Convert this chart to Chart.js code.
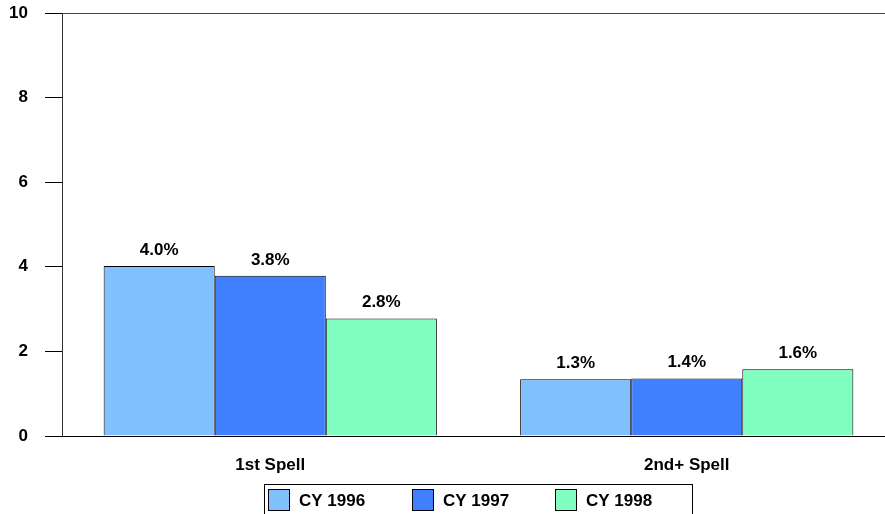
<!DOCTYPE html>
<html>
<head>
<meta charset="utf-8">
<script src="https://cdn.jsdelivr.net/npm/chart.js@4/dist/chart.umd.min.js"></script>
<style>
  html, body { margin: 0; padding: 0; background: #fff; overflow: hidden; }
  #wrap { position: relative; width: 896px; height: 514px; }
</style>
</head>
<body>
<div id="wrap"><canvas id="chart" width="896" height="514"></canvas></div>
<script>
// ─── Data ─────────────────────────────────────────────────────────────────────
const categories = ['1st Spell', '2nd+ Spell'];
const seriesNames = ['CY 1996', 'CY 1997', 'CY 1998'];
const cy1996 = [4.02, 1.34];
const cy1997 = [3.79, 1.36];
const cy1998 = [2.78, 1.58];
const barLabels = [
  ['4.0%', '1.3%'],
  ['3.8%', '1.4%'],
  ['2.8%', '1.6%'],
];
const yTicks = [0, 2, 4, 6, 8, 10];

// ─── Styles ───────────────────────────────────────────────────────────────────
const COLORS = ['#80C0FF', '#4080FF', '#80FFC0'];
const FONT   = "'Liberation Sans', Arial, sans-serif";
const INK    = '#000';

// value labels above each bar
const barLabelPlugin = {
  id: 'barLabels',
  afterDatasetsDraw(chart) {
    const ctx = chart.ctx;
    ctx.save();
    ctx.font = `bold 17px ${FONT}`;
    ctx.fillStyle = INK;
    ctx.textAlign = 'center';
    ctx.textBaseline = 'alphabetic';
    chart.data.datasets.forEach((ds, i) => {
      chart.getDatasetMeta(i).data.forEach((bar, j) => {
        ctx.fillText(barLabels[i][j], bar.x, bar.y - 11);
      });
    });
    ctx.restore();
  },
};

// boxed legend below the axis
const boxLegendPlugin = {
  id: 'boxLegend',
  afterDraw(chart) {
    const ctx = chart.ctx;
    const left = 264, top = 484, right = 692, bottom = 520;
    const starts = [268, 412, 555];
    ctx.save();
    ctx.strokeStyle = INK;
    ctx.lineWidth = 1;
    ctx.strokeRect(left + 0.5, top + 0.5, right - left, bottom - top);
    ctx.font = `bold 17px ${FONT}`;
    ctx.textBaseline = 'alphabetic';
    ctx.textAlign = 'left';
    chart.data.datasets.forEach((ds, i) => {
      const x = starts[i];
      ctx.fillStyle = ds.backgroundColor;
      ctx.fillRect(x, 489, 21, 21);
      ctx.strokeRect(x + 0.5, 489.5, 21, 21);
      ctx.fillStyle = INK;
      ctx.fillText(ds.label, x + 31, 506);
    });
    ctx.restore();
  },
};

const makeSet = (label, data, color) => ({
  label,
  data,
  backgroundColor: color,
  borderColor: INK,
  borderWidth: 1,
  borderSkipped: 'bottom',
  categoryPercentage: 0.8,
  barPercentage: 1.0,
});

new Chart(document.getElementById('chart'), {
  type: 'bar',
  data: {
    labels: categories,
    datasets: [
      makeSet(seriesNames[0], cy1996, COLORS[0]),
      makeSet(seriesNames[1], cy1997, COLORS[1]),
      makeSet(seriesNames[2], cy1998, COLORS[2]),
    ],
  },
  options: {
    responsive: false,
    animation: false,
    layout: { padding: { top: 13, right: 1, left: 0, bottom: 0 } },
    plugins: {
      legend: { display: false },
      tooltip: { enabled: false },
    },
    scales: {
      x: {
        grid: { display: false },
        border: { display: true, color: INK, width: 1 },
        ticks: { color: INK, font: { family: FONT, size: 17, weight: 'bold' }, padding: 11 },
        afterFit(scale) { scale.height = 78; },
      },
      y: {
        min: 0,
        max: 10,
        afterBuildTicks(scale) { scale.ticks = yTicks.map(v => ({ value: v })); },
        grid: {
          drawOnChartArea: true,
          color: c => (c.tick && c.tick.value === 10 ? '#444' : 'rgba(0,0,0,0)'),
          tickColor: INK,
          tickLength: 17,
        },
        border: { display: true, color: '#333', width: 1 },
        ticks: { color: INK, font: { family: FONT, size: 17, weight: 'bold' }, padding: 17 },
        afterFit(scale) {
          scale.width = 62;
          scale.paddingTop = 0;
          scale.paddingBottom = 0;
        },
      },
    },
  },
  plugins: [barLabelPlugin, boxLegendPlugin],
});
</script>
</body>
</html>
